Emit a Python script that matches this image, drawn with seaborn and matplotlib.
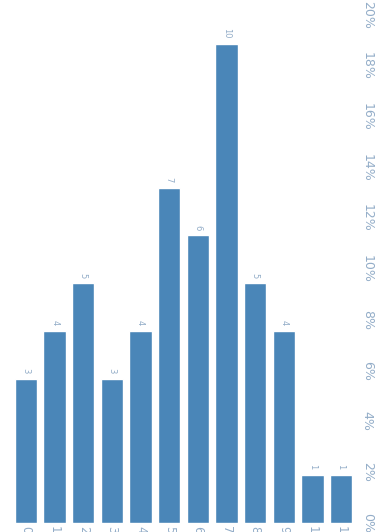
import matplotlib
matplotlib.use("Agg")
import matplotlib.pyplot as plt
import seaborn as sns
import pandas as pd
from matplotlib.ticker import PercentFormatter

# Category labels and counts per category
categories = ["0", "1", "2", "3", "4", "5", "6", "7", "8", "9", "10", "11"]
counts = [3, 4, 5, 3, 4, 7, 6, 10, 5, 4, 1, 1]

total = sum(counts)
shares = [c / total * 100 for c in counts]
df = pd.DataFrame({"category": categories, "share": shares, "count": counts})

sns.set_theme(style="white")
plt.rcParams["font.family"] = ["DejaVu Sans"]

bar_color = "#4a86b8"
text_color = "#93adc8"

fig = plt.figure(figsize=(3.75, 5.32), dpi=100)
ax = fig.add_axes([11.7 / 375, 9 / 532, (355.3 - 11.7) / 375, (532 - 9) / 532])

sns.barplot(data=df, x="category", y="share", color=bar_color, saturation=1,
            width=0.78, ax=ax)

ax.set_ylim(0, 523 / 25.4)
ax.set_xlim(-0.5, len(categories) - 0.5)
ax.yaxis.set_major_formatter(PercentFormatter(decimals=0))
ax.set_yticks(range(0, 21, 2))
ax.yaxis.tick_right()
ax.tick_params(axis="y", length=0, pad=4, labelsize=9, labelcolor=text_color,
               labelrotation=-90)
ax.tick_params(axis="x", length=0, pad=2, labelsize=8.5, labelcolor=text_color,
               labelrotation=-90)
for lbl in ax.get_yticklabels():
    lbl.set_verticalalignment("center")
ax.set_xlabel("")
ax.set_ylabel("")
sns.despine(ax=ax, left=True, bottom=True, right=True, top=True)

for container in ax.containers:
    ax.bar_label(container, labels=[str(c) for c in counts], padding=4,
                 rotation=-90, fontsize=6, color=text_color)

fig.savefig("out.png", dpi=100)
